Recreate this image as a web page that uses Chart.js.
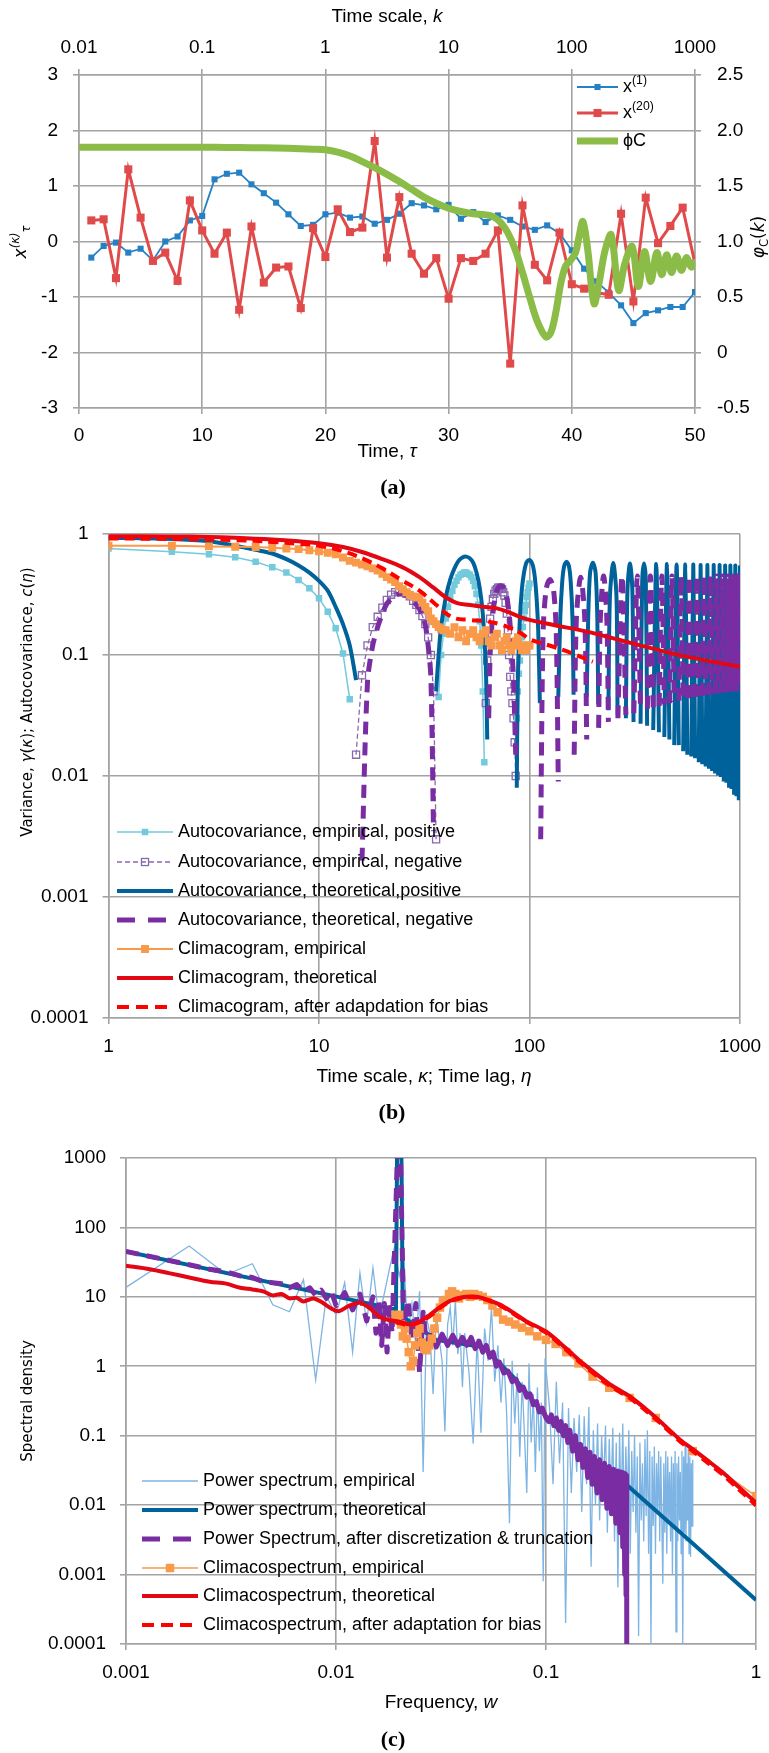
<!DOCTYPE html>
<html>
<head>
<meta charset="utf-8">
<script src="https://cdn.jsdelivr.net/npm/chart.js@4.4.1/dist/chart.umd.min.js"></script>
<style>
  html, body { margin: 0; padding: 0; background: #fff; }
  body { width: 769px; height: 1753px; position: relative; overflow: hidden; }
  canvas { position: absolute; left: 0; }
  #chart-a { top: 0; }
  #chart-b { top: 500px; }
  #chart-c { top: 1140px; }
</style>
</head>
<body>
<canvas id="chart-a" width="769" height="500"></canvas>
<canvas id="chart-b" width="769" height="640"></canvas>
<canvas id="chart-c" width="769" height="613"></canvas>
<script>
// ---------- panel (a): time series and phi_C ----------
const tau = [1,2,3,4,5,6,7,8,9,10,11,12,13,14,15,16,17,18,19,20,21,22,23,24,25,
  26,27,28,29,30,31,32,33,34,35,36,37,38,39,40,41,42,43,44,45,46,47,48,49,50];
const x1 = [-0.29,-0.08,-0.02,-0.20,-0.13,-0.34,0.00,0.09,0.38,0.46,
  1.12,1.22,1.24,1.03,0.87,0.70,0.49,0.28,0.30,0.49,
  0.52,0.43,0.45,0.32,0.39,0.50,0.69,0.65,0.58,0.66,
  0.41,0.53,0.35,0.47,0.39,0.27,0.21,0.29,0.15,-0.16,
  -0.49,-0.72,-0.92,-1.15,-1.47,-1.29,-1.24,-1.18,-1.18,-0.91];
const x20 = [0.38,0.40,-0.66,1.30,0.43,-0.35,-0.20,-0.71,0.74,0.20,
  -0.22,0.16,-1.23,0.27,-0.74,-0.47,-0.45,-1.20,0.24,-0.28,
  0.58,0.17,0.25,1.81,-0.29,0.80,-0.22,-0.58,-0.30,-1.03,
  -0.30,-0.35,-0.22,0.20,-2.20,0.65,-0.42,-0.70,0.16,-0.77,
  -0.85,-0.92,-0.96,0.50,-1.08,0.79,-0.03,0.28,0.61,-0.40];
const kScale = [0.01,0.0316,0.1,0.158,0.251,0.398,0.631,0.794,1,1.259,1.585,1.995,2.512,3.162,3.981,5.012,6.31,7.943,
  10,12.59,15.85,19.95,22.91,26.3,30.2,34.67,39.81,45.71,52.48,61.66,67.61,74.13,81.28,89.13,97.72,
  107.2,114.8,123,134.9,151.4,166,186.2,208.9,239.9,269.2,309,346.7,389,436.5,489.8,537,588.8,
  645.7,707.9,776.2,851.1,933.3,1000];
const phiC = [1.85,1.85,1.849,1.847,1.845,1.842,1.836,1.832,1.826,1.805,1.77,1.72,1.665,1.605,1.54,1.47,1.4,1.345,
  1.3,1.27,1.25,1.24,1.225,1.175,1.08,0.93,0.72,0.49,0.28,0.14,0.18,0.36,0.62,0.78,0.83,
  0.9,1.05,1.18,0.92,0.44,0.62,0.92,1.06,0.56,0.8,0.955,0.595,0.91,0.64,0.9,0.7,0.88,
  0.72,0.87,0.74,0.855,0.77,0.81];

// ---------- panel (b): climacogram and autocovariance ----------
const acEmpPosLag = [1,2,3,4,5,6,7,8,9,10,11,12,13,14, 25,
  37,38,39,40,41,42,43,44,45,46,47,48,49,50,51,52,53,54,55,56,57,58,59,60,61, 75,
  87,88,89,90,91,92,93,94,95,96,97,98,99,100];
const acEmpPosVal = [0.76,0.714,0.68,0.642,0.59,0.53,0.48,0.417,0.356,0.294,0.228,0.166,0.103,0.043, null,
  0.045,0.1,0.15,0.2,0.25,0.3,0.34,0.38,0.41,0.44,0.46,0.47,0.48,0.48,0.47,0.46,0.44,0.41,0.37,0.32,0.26,0.19,0.12,0.05,0.013, null,
  0.03,0.05,0.07,0.09,0.11,0.14,0.17,0.2,0.23,0.26,0.3,0.33,0.36,0.39];
const acEmpNegLag = [15,16,17,18,19,20,21,22,23,24,25,26,27,28,29,30,31,32,33,34,35,36, 50,
  62,63,64,65,66,67,68,69,70,71,72,73,74,75,76,77,78,79,80,81,82,83,84,85,86];
const acEmpNegVal = [0.015,0.068,0.12,0.17,0.207,0.246,0.285,0.315,0.33,0.335,0.33,0.32,0.305,0.28,0.26,0.235,0.21,0.18,0.14,0.1,0.05,0.003, null,
  0.04,0.09,0.15,0.2,0.25,0.29,0.32,0.34,0.35,0.36,0.36,0.36,0.35,0.33,0.31,0.27,0.22,0.16,0.1,0.066,0.05,0.04,0.03,0.019,0.01];
const acTheoPosLag = [1,2,3,4,5,6,7,8,9,10,11,12,13,14,15, 25,
  36,37,38,40,42,44,46,48,50,52,54,56,58,60,62,63, 75,
  87,88,90,92,94,96,98,100,102,104,106,108,110,112, 125,
  137,140,143,146,150,154,157,160,162, 175,
  187,190,194,200,206,210,212, 225,
  237,241,250,259,262, 275,
  287,292,300,308,312, 325,
  337,343,350,357,362, 375,
  387,400,412, 425, 437,450,462, 475, 487,500,512, 525, 537,550,562, 575,
  587,600,612, 625, 637,650,662, 675, 687,700,712, 725, 737,750,762, 775,
  787,800,812, 825, 837,850,862, 875, 887,900,912, 925, 937,950,962, 975, 987,1000];
const acTheoPosVal = [0.93,0.91,0.87,0.8,0.74,0.69,0.62,0.55,0.48,0.41,0.34,0.25,0.18,0.12,0.062, null,
  0.05,0.1,0.17,0.3,0.42,0.52,0.6,0.64,0.65,0.63,0.58,0.48,0.36,0.22,0.08,0.02, null,
  0.008,0.06,0.2,0.35,0.47,0.56,0.6,0.61,0.59,0.54,0.44,0.3,0.16,0.04, null,
  0.045,0.2,0.4,0.54,0.59,0.54,0.4,0.2,0.047, null,
  0.045,0.2,0.48,0.58,0.48,0.2,0.039, null,
  0.035,0.3,0.575,0.3,0.032, null,
  0.03,0.35,0.57,0.35,0.028, null,
  0.027,0.4,0.57,0.4,0.026, null,
  0.024,0.565,0.023, null, 0.021,0.565,0.02, null, 0.018,0.56,0.018, null, 0.016,0.56,0.015, null,
  0.0145,0.56,0.014, null, 0.013,0.555,0.0125, null, 0.012,0.555,0.0115, null, 0.011,0.555,0.0105, null,
  0.0101,0.555,0.0098, null, 0.009,0.55,0.0088, null, 0.008,0.55,0.0078, null, 0.007,0.55,0.0068, null, 0.0063,0.55];
const acTheoNegLag = [16,17,18,19,20,21,22,23,24,25,26,27,28,29,30,31,32,33,34,35, 50,
  64,65,66,67,68,70,72,74,76,78,80,82,84,86, 100,
  113,116,120,125,130,134,137, 150,
  163,167,175,183,187, 200,
  213,217,225,233,237, 250,
  263,275,287, 300, 313,325,337, 350, 363,375,387, 400, 413,425,437, 450,
  463,475,487, 500, 513,525,537, 550, 563,575,587, 600, 613,625,637, 650,
  663,675,687, 700, 713,725,737, 750, 763,775,787, 800, 813,825,837, 850,
  863,875,887, 900, 913,925,937, 950, 963,975,987];
const acTheoNegVal = [0.002,0.06,0.12,0.17,0.22,0.265,0.29,0.31,0.32,0.32,0.31,0.3,0.28,0.26,0.24,0.21,0.177,0.12,0.065,0.0035, null,
  0.03,0.1,0.16,0.22,0.27,0.34,0.37,0.37,0.35,0.3,0.22,0.13,0.06,0.015, null,
  0.003,0.15,0.35,0.42,0.35,0.15,0.009, null,
  0.015,0.2,0.44,0.2,0.02, null,
  0.025,0.2,0.45,0.2,0.028, null,
  0.03,0.45,0.032, null, 0.033,0.45,0.035, null, 0.036,0.45,0.037, null, 0.038,0.45,0.039, null,
  0.04,0.45,0.041, null, 0.042,0.45,0.043, null, 0.044,0.45,0.045, null, 0.045,0.45,0.046, null,
  0.046,0.45,0.047, null, 0.047,0.45,0.048, null, 0.048,0.45,0.048, null, 0.049,0.45,0.049, null,
  0.049,0.45,0.05, null, 0.05,0.45,0.05, null, 0.05,0.45,0.05];
const climEmpK = [1,2,3,4,5,6,7,8,9,10,11,12,13,14,15,16,17,18,19,20,21,22,23,24,25,26,27,28,29,30,
  31,32,33,34,35,36,37,38,39,40,42,44,46,48,50,52,54,56,58,60,62,64,66,68,70,72,74,76,78,80,
  82,84,86,88,90,92,94,96,98,100];
const climEmpVal = [0.80,0.80,0.79,0.785,0.78,0.77,0.76,0.75,0.735,0.72,0.70,0.68,0.64,0.60,0.58,
  0.56,0.54,0.52,0.50,0.47,0.44,0.42,0.40,0.37,0.35,0.33,0.315,0.305,0.30,0.30,
  0.27,0.25,0.23,0.20,0.19,0.18,0.17,0.165,0.16,0.16,
  0.15,0.17,0.14,0.16,0.13,0.15,0.16,0.14,0.13,0.15,0.16,0.13,0.12,0.14,0.15,
  0.12,0.11,0.13,0.14,0.12,0.11,0.12,0.13,0.14,0.12,0.11,0.12,0.11,0.12,0.12];
const climTheoK = [1,2,3,4,6,8,10,13,16,20,25,30,35,40,45,52,60,70,80,90,100,130,187,268,386,555,1000];
const climTheoVal = [0.96,0.955,0.945,0.93,0.9,0.87,0.84,0.78,0.71,0.62,0.53,0.44,0.36,0.30,0.27,0.259,
  0.25,0.243,0.225,0.207,0.195,0.177,0.156,0.133,0.113,0.097,0.08];
const climAdjK = [1,2,4,6,8,10,13,16,20,25,30,36,43,52,62,72,82,92,100,130,160,200];
const climAdjVal = [0.92,0.91,0.89,0.86,0.83,0.80,0.72,0.63,0.52,0.41,0.34,0.26,0.205,0.195,0.19,0.18,
  0.166,0.15,0.135,0.117,0.103,0.088];

// ---------- panel (c): spectra ----------
const psEmpW = [0.001,0.002,0.003,0.004,0.005,0.006,0.007,0.008,0.009,0.010,
  0.011,0.012,0.013,0.014,0.015,0.016,0.017,0.018,0.019,0.020,
  0.021,0.022,0.023,0.024,0.025,0.026,0.027,0.028,0.029,0.030,
  0.031,0.032,0.033,0.034,0.035,0.036,0.037,0.038,0.039,0.040,
  0.041,0.043,0.045,0.047,0.049,0.051,0.053,0.055,0.057,0.059,
  0.061,0.063,0.065,0.067,0.069,0.071,0.073,0.075,0.077,0.079,
  0.081,0.083,0.085,0.087,0.089,0.091,0.093,0.095,0.097,0.099,
  0.104,0.108,0.112,0.116,0.120,0.124,0.128,0.132,0.136,0.140,
  0.144,0.148,0.152,0.156,0.160,0.164,0.168,0.172,0.176,0.180,
  0.184,0.188,0.192,0.196,0.200,0.204,0.208,0.212,0.216,0.220,
  0.224,0.228,0.232,0.236,0.240,0.244,0.248,0.252,0.256,0.260,
  0.264,0.268,0.272,0.276,0.280,0.284,0.288,0.292,0.296,0.300,
  0.304,0.308,0.312,0.316,0.320,0.324,0.328,0.332,0.336,0.340,
  0.344,0.348,0.352,0.356,0.360,0.364,0.368,0.372,0.376,0.380,
  0.384,0.388,0.392,0.396,0.400,0.404,0.408,0.412,0.416,0.420,
  0.424,0.428,0.432,0.436,0.440,0.444,0.448,0.452,0.456,0.460,
  0.464,0.468,0.472,0.476,0.480,0.484,0.488,0.492,0.496,0.500];
const psEmpVal = [13.7,54,21,30,7.7,6.1,17.7,0.64,10.2,5.5,
  16,1.6,22,4.2,26,5,11.3,26,53,20,
  36,3,8,2,12,0.03,5,3,0.4,6,
  2.5,1.2,0.115,4,7,2,9,1.5,3,0.5,
  3,0.8,0.077,2.5,0.11,3.5,1.2,7,0.6,2,
  0.3,1.3,0.2,0.0055,1.2,0.15,0.8,0.05,0.6,0.1,
  0.015,1.1,0.08,0.4,0.03,0.5,0.06,0.3,0.0008,1.3,
  0.25,0.02,0.6,0.04,0.3,0.0002,0.25,0.015,0.18,0.03,
  0.2,0.008,0.19,0.02,0.26,0.0013,0.12,0.01,0.15,0.006,
  0.1,0.02,0.14,0.004,0.09,0.012,0.13,0.003,0.08,0.00065,
  0.11,0.008,0.15,0.005,0.07,0.01,0.12,0.002,0.06,0.008,
  0.1,0.004,0.05,0.00013,0.08,0.006,0.04,0.003,0.09,0.007,
  0.12,0.002,0.06,0.0001,0.05,0.005,0.07,0.002,0.04,0.008,
  0.06,0.003,0.05,0.006,0.00074,0.04,0.004,0.06,0.002,0.05,
  0.006,0.03,0.003,0.05,0.001,0.04,0.005,0.06,0.00015,0.04,
  0.003,0.05,0.006,0.03,0.002,0.06,0.0001,0.05,0.004,0.08,
  0.003,0.04,0.006,0.07,0.002,0.05,0.0018,0.04,0.005,0.045];
const psTheoW = [0.001,0.0193,0.0196,0.0204,0.0208,0.03,0.05,0.07,0.1,0.15,0.2,0.242,0.5,1];
const psTheoVal = [45,6.6,5000,5000,5.2,2.4,1.9,0.7,0.19,0.055,0.025,0.0197,0.0028,0.00043];
const psDiscW = [0.001,0.0015,0.002,0.0025,0.003,0.0035,0.004,0.0045,0.005,0.0055,
  0.006,0.0065,0.007,0.0075,0.008,0.0085,0.009,0.0095,0.010,0.011,
  0.012,0.013,0.014,0.015,0.0155,0.016,0.0165,0.017,0.0175,0.018,
  0.0185,0.0199,0.0201,0.021,0.022,0.023,0.024,0.025,0.026,0.027,
  0.028,0.030,0.032,0.034,0.036,0.038,0.040,0.042,0.044,0.046,
  0.048,0.050,0.052,0.054,0.056,0.058,0.060,0.063,0.066,0.069,
  0.072,0.075,0.078,0.081,0.084,0.087,0.090,0.093,0.096,0.100,
  0.103,0.106,0.109,0.112,0.115,0.118,0.121,0.124,0.127,0.130,
  0.134,0.138,0.142,0.146,0.150,0.154,0.158,0.162,0.166,0.170,
  0.175,0.180,0.185,0.190,0.195,0.200,0.205,0.210,0.215,0.220,
  0.225,0.229,0.232,0.235,0.237,0.239,0.2405,0.242,0.2425];
const psDiscVal = [45,35,29,25,23,20,19,16.5,16,15.5,
  13.5,15,12,13.5,10.5,12.5,9.5,12,7.5,11.5,
  6.5,11,4.5,10,3,9,2,8,1.6,7,
  3,5000,5000,4,9,2.5,8,0.8,6,2,
  3.0,1.9,2.9,2.0,2.8,2.0,2.6,2.0,2.6,1.8,
  2.3,1.6,2.0,1.35,1.6,1.0,1.15,0.8,0.85,0.6,
  0.65,0.45,0.5,0.36,0.4,0.28,0.31,0.22,0.25,0.18,
  0.16,0.2,0.14,0.18,0.12,0.16,0.1,0.14,0.08,0.12,
  0.06,0.1,0.045,0.075,0.035,0.065,0.025,0.058,0.02,0.05,
  0.015,0.045,0.012,0.04,0.009,0.036,0.0075,0.033,0.0055,0.031,
  0.004,0.03,0.0025,0.029,0.001,0.028,0.0005,0.027,0.00005];
const csEmpW = [1,0.5,0.3333,0.25,0.2,0.1667,0.1429,0.125,0.1111,0.1,
  0.0909,0.0833,0.0769,0.0714,0.0667,0.0625,0.0588,0.0556,0.0526,0.05,
  0.0476,0.0455,0.0435,0.0417,0.04,0.0385,0.037,0.0357,0.0345,0.0333,
  0.0323,0.03125,0.0303,0.0294,0.0286,0.0278,0.027,0.0263,0.0256,0.025,
  0.0244,0.0238,0.0233,0.0227,0.0222,0.0217,0.0213,0.0208,0.0204,0.02,0.0196,0.0192];
const csEmpVal = [0.0135,0.06,0.18,0.35,0.49,0.71,1.1,1.6,2.1,2.4,
  2.7,3.2,3.6,4.0,4.4,4.7,6,7.5,9,10,
  10.5,11,10,11,10.5,9.5,11,12,11,9,
  8.6,7,5,3.5,2.5,2,1.7,1.8,2.2,3.5,
  3,2,1.2,1.0,1.6,2.5,3.5,2.7,4,5.5,5,5.5];
const csTheoW = [0.001,0.0013,0.0016,0.002,0.0025,0.003,0.0035,0.004,0.0045,0.005,
  0.0055,0.006,0.0065,0.007,0.0078,0.0085,0.0095,0.0103,0.0115,0.013,
  0.0145,0.016,0.018,0.02,0.0225,0.025,0.028,0.031,0.035,0.04,
  0.045,0.05,0.06,0.07,0.08,0.1,0.125,0.15,0.2,0.25,
  0.3,0.35,0.436,0.5,0.6,0.7,0.8,0.9,1];
const csTheoVal = [28,25,22,19,16.5,15.5,13.5,12.8,12,10.5,
  11,9.5,9.7,8.6,9.5,8.5,6.8,6.2,7.4,8.2,
  6.8,5.2,4.6,4.4,4.0,4.4,5.5,7,8.8,9.9,
  10.1,9.6,7.8,5.9,4.5,3.17,1.8,1.1,0.56,0.37,
  0.24,0.16,0.087,0.064,0.042,0.029,0.02,0.0145,0.0108];
const csAdjW = [0.0192,0.0225,0.025,0.028,0.031,0.035,0.04,0.045,0.05,0.06,
  0.07,0.08,0.1,0.125,0.15,0.2,0.25,0.3,0.35,0.436,0.5,0.6,0.7,0.8,0.9,1];
const csAdjVal = [4.3,3.9,4.3,5.3,6.8,8.6,9.7,9.9,9.4,7.6,
  5.7,4.4,3.05,1.72,1.05,0.53,0.35,0.228,0.152,0.082,0.06,0.039,0.027,0.0185,0.0134,0.0099];

// ---------- helpers ----------
const FONT = "'Liberation Sans', Arial, sans-serif";
const VFONT = "'DejaVu Sans', Verdana, sans-serif";
const SERIF = "'Liberation Serif', 'Times New Roman', serif";
const GRID = "#a3a3a3";

Chart.defaults.font.family = FONT;
Chart.defaults.font.size = 19;
Chart.defaults.color = "#000";

const pts = (xs, ys) => xs.map((x, i) => ({ x: x, y: ys[i] }));

function fixWidth(w) {
  return function (scale) {
    scale.width = w;
    scale.paddingLeft = scale.paddingRight = scale.paddingTop = scale.paddingBottom = 0;
  };
}
function fixHeight(h) {
  return function (scale) {
    scale.height = h;
    scale.paddingLeft = scale.paddingRight = scale.paddingTop = scale.paddingBottom = 0;
  };
}
function decades(list) {
  return function (scale) {
    scale.ticks = list.map(v => ({ value: v }));
  };
}

function runFont(r, base) {
  const size = (r.sup || r.sub) ? base.size * 0.68 : base.size;
  return (r.it ? "italic " : "") + (base.weight || "normal") + " " + size + "px " + base.family;
}
function drawRuns(ctx, runs, x, y, base, align) {
  ctx.save();
  ctx.textBaseline = "middle";
  ctx.textAlign = "left";
  ctx.fillStyle = "#000";
  let total = 0;
  runs.forEach(r => { ctx.font = runFont(r, base); total += ctx.measureText(r.t).width; });
  let cx = align === "left" ? x : x - total / 2;
  runs.forEach(r => {
    ctx.font = runFont(r, base);
    let dy = 0;
    if (r.sup) dy = -base.size * 0.36;
    if (r.sub) dy = base.size * 0.3;
    ctx.fillText(r.t, cx, y + dy);
    cx += ctx.measureText(r.t).width;
  });
  ctx.restore();
}

// draws axis titles, panel label and legend for one panel
function decoPlugin(top, texts, legend) {
  return {
    id: "deco",
    afterDraw(chart) {
      const ctx = chart.ctx;
      texts.forEach(t => {
        ctx.save();
        ctx.translate(t.x, t.y - top);
        if (t.rot) ctx.rotate(-Math.PI / 2);
        drawRuns(ctx, t.runs, 0, 0, t.font, "center");
        ctx.restore();
      });
      legend.rows.forEach(row => {
        const ds = chart.data.datasets[row.ds];
        const y = row.y - top;
        ctx.save();
        ctx.strokeStyle = ds.borderColor;
        ctx.lineWidth = ds.borderWidth;
        ctx.setLineDash(row.dash || ds.borderDash || []);
        ctx.beginPath();
        ctx.moveTo(legend.x1, y);
        ctx.lineTo(legend.x2, y);
        ctx.stroke();
        ctx.setLineDash([]);
        if (ds.pointRadius) {
          const s = ds.pointRadius * Math.SQRT2;
          const mx = (legend.x1 + legend.x2) / 2;
          if (ds.pointBackgroundColor !== "rgba(0,0,0,0)") {
            ctx.fillStyle = ds.pointBackgroundColor;
            ctx.fillRect(mx - s / 2, y - s / 2, s, s);
          }
          if (ds.pointBorderWidth) {
            ctx.strokeStyle = ds.pointBorderColor;
            ctx.lineWidth = ds.pointBorderWidth;
            ctx.strokeRect(mx - s / 2, y - s / 2, s, s);
          }
        }
        ctx.restore();
        drawRuns(ctx, row.runs, legend.tx, y, legend.font, "left");
      });
    },
  };
}

const gridStyle = { color: GRID, lineWidth: 1.6, tickLength: 6 };
const borderStyle = { color: GRID, width: 1.6 };
const common = {
  responsive: false,
  animation: false,
  events: [],
  plugins: { legend: { display: false }, tooltip: { enabled: false } },
};
const titleFont = { size: 19, family: FONT };
const labelFont = { size: 22, family: SERIF, weight: "bold" };

// ---------- chart (a) ----------
const BLUE_A = "#2581c4", RED_A = "#e04a4a", GREEN = "#8bbc47";

const chartA = new Chart(document.getElementById("chart-a"), {
  type: "line",
  data: {
    datasets: [
      { label: "x(1)", data: pts(tau, x1), xAxisID: "x", yAxisID: "y",
        borderColor: BLUE_A, borderWidth: 1.8, pointStyle: "rect", pointRadius: 4.3,
        pointBackgroundColor: BLUE_A, pointBorderColor: BLUE_A, pointBorderWidth: 0, order: 3 },
      { label: "x(20)", data: pts(tau, x20), xAxisID: "x", yAxisID: "y",
        borderColor: RED_A, borderWidth: 3, pointStyle: "rect", pointRadius: 5.7,
        pointBackgroundColor: RED_A, pointBorderColor: RED_A, pointBorderWidth: 0, order: 2 },
      { label: "phiC", data: pts(kScale, phiC), xAxisID: "xTop", yAxisID: "yRight",
        borderColor: GREEN, borderWidth: 7, pointRadius: 0, tension: 0.35,
        borderCapStyle: "round", borderJoinStyle: "round", order: 1 },
    ],
  },
  options: Object.assign({}, common, {
    layout: { padding: 0, autoPadding: false },
    scales: {
      x: { type: "linear", position: "bottom", min: 0, max: 50,
        ticks: { stepSize: 10, padding: 10.5, maxRotation: 0, autoSkip: false },
        grid: gridStyle, border: borderStyle, afterFit: fixHeight(92) },
      xTop: { type: "logarithmic", position: "top", min: 0.01, max: 1000,
        afterBuildTicks: decades([0.01, 0.1, 1, 10, 100, 1000]),
        ticks: { callback: v => String(v), padding: 10, maxRotation: 0, autoSkip: false },
        grid: Object.assign({}, gridStyle, { drawOnChartArea: false }), border: borderStyle,
        afterFit: fixHeight(75) },
      y: { type: "linear", position: "left", min: -3, max: 3,
        ticks: { stepSize: 1, padding: 15 },
        grid: gridStyle, border: borderStyle, afterFit: fixWidth(79) },
      yRight: { type: "linear", position: "right", min: -0.5, max: 2.5,
        ticks: { stepSize: 0.5, padding: 16 },
        grid: Object.assign({}, gridStyle, { drawOnChartArea: false }), border: borderStyle,
        afterFit: fixWidth(74) },
    },
  }),
  plugins: [decoPlugin(0, [
    { x: 387, y: 17, runs: [{ t: "Time scale, " }, { t: "k", it: true }], font: titleFont },
    { x: 387, y: 452, runs: [{ t: "Time, " }, { t: "τ", it: true }], font: titleFont },
    { x: 393, y: 488, runs: [{ t: "(a)" }], font: labelFont },
    { x: 22, y: 242, rot: true, font: { size: 17, family: VFONT },
      runs: [{ t: "x", it: true }, { t: "(κ)", sup: true, it: true }, { t: "τ", sub: true, it: true }] },
    { x: 760, y: 237, rot: true, font: { size: 17, family: VFONT },
      runs: [{ t: "φ", it: true }, { t: "C", sub: true }, { t: "(" }, { t: "k", it: true }, { t: ")" }] },
  ], {
    x1: 577, x2: 618, tx: 623, font: { size: 18, family: FONT },
    rows: [
      { ds: 0, y: 87, runs: [{ t: "x" }, { t: "(1)", sup: true }] },
      { ds: 1, y: 113, runs: [{ t: "x" }, { t: "(20)", sup: true }] },
      { ds: 2, y: 141, runs: [{ t: "ϕC" }] },
    ],
  })],
});

// ---------- chart (b) ----------
const CYAN = "#72cadc", PURPLE_L = "#8a68b0", DBLUE = "#00629b", PURPLE = "#7a2da3",
  ORANGE = "#f9994a", RED = "#e30613", RED2 = "#ff0000";

const chartB = new Chart(document.getElementById("chart-b"), {
  type: "line",
  data: {
    datasets: [
      { data: pts(acEmpPosLag, acEmpPosVal), borderColor: CYAN, borderWidth: 1.5,
        pointStyle: "rect", pointRadius: 4.6, pointBackgroundColor: CYAN, pointBorderWidth: 0,
        spanGaps: false, order: 7 },
      { data: pts(acEmpNegLag, acEmpNegVal), borderColor: PURPLE_L, borderWidth: 1.3, borderDash: [5, 3],
        pointStyle: "rect", pointRadius: 5, pointBackgroundColor: "rgba(0,0,0,0)",
        pointBorderColor: PURPLE_L, pointBorderWidth: 1.3, spanGaps: false, order: 6 },
      { data: pts(acTheoPosLag, acTheoPosVal), borderColor: DBLUE, borderWidth: 4, pointRadius: 0,
        tension: 0.3, borderJoinStyle: "round", spanGaps: false, order: 5 },
      { data: pts(acTheoNegLag, acTheoNegVal), borderColor: PURPLE, borderWidth: 5, borderDash: [13, 8],
        pointRadius: 0, tension: 0.3, spanGaps: false, order: 4 },
      { data: pts(climEmpK, climEmpVal), borderColor: ORANGE, borderWidth: 2,
        pointStyle: "rect", pointRadius: 5.6, pointBackgroundColor: ORANGE, pointBorderWidth: 0, order: 3 },
      { data: pts(climTheoK, climTheoVal), borderColor: RED, borderWidth: 4, pointRadius: 0,
        tension: 0.4, order: 2 },
      { data: pts(climAdjK, climAdjVal), borderColor: RED2, borderWidth: 4, borderDash: [10, 6],
        pointRadius: 0, tension: 0.4, order: 1 },
    ],
  },
  options: Object.assign({}, common, {
    layout: { padding: { top: 34, right: 29, left: 0, bottom: 0 }, autoPadding: false },
    scales: {
      x: { type: "logarithmic", min: 1, max: 1000, afterBuildTicks: decades([1, 10, 100, 1000]),
        ticks: { callback: v => String(v), padding: 11.3, maxRotation: 0, autoSkip: false },
        grid: gridStyle, border: borderStyle, afterFit: fixHeight(122) },
      y: { type: "logarithmic", min: 0.0001, max: 1,
        afterBuildTicks: decades([0.0001, 0.001, 0.01, 0.1, 1]),
        ticks: { callback: v => String(v), padding: 14, autoSkip: false },
        grid: gridStyle, border: borderStyle, afterFit: fixWidth(108.5) },
    },
  }),
  plugins: [decoPlugin(500, [
    { x: 424, y: 1077, font: titleFont,
      runs: [{ t: "Time scale, " }, { t: "κ", it: true }, { t: "; Time lag, " }, { t: "η", it: true }] },
    { x: 392, y: 1113, runs: [{ t: "(b)" }], font: labelFont },
    { x: 28, y: 702, rot: true, font: { size: 15, family: VFONT },
      runs: [{ t: "Variance, " }, { t: "γ", it: true }, { t: "(" }, { t: "κ", it: true },
        { t: "); Autocovariance, " }, { t: "c", it: true }, { t: "(" }, { t: "η", it: true }, { t: ")" }] },
  ], {
    x1: 117, x2: 173, tx: 178, font: { size: 18, family: FONT },
    rows: [
      { ds: 0, y: 832, runs: [{ t: "Autocovariance, empirical, positive" }] },
      { ds: 1, y: 862, runs: [{ t: "Autocovariance, empirical, negative" }] },
      { ds: 2, y: 891, runs: [{ t: "Autocovariance, theoretical,positive" }] },
      { ds: 3, y: 920, dash: [18, 13], runs: [{ t: "Autocovariance, theoretical, negative" }] },
      { ds: 4, y: 949, runs: [{ t: "Climacogram, empirical" }] },
      { ds: 5, y: 978, runs: [{ t: "Climacogram, theoretical" }] },
      { ds: 6, y: 1007, dash: [12, 7], runs: [{ t: "Climacogram, after adapdation for bias" }] },
    ],
  })],
});

// ---------- chart (c) ----------
const LBLUE = "#7db4e3";

const chartC = new Chart(document.getElementById("chart-c"), {
  type: "line",
  data: {
    datasets: [
      { data: pts(psEmpW, psEmpVal), borderColor: LBLUE, borderWidth: 1.3, pointRadius: 0, order: 6 },
      { data: pts(psTheoW, psTheoVal), borderColor: DBLUE, borderWidth: 4, pointRadius: 0, order: 5 },
      { data: pts(psDiscW, psDiscVal), borderColor: PURPLE, borderWidth: 5, borderDash: [13, 8],
        borderJoinStyle: "round", pointRadius: 0, order: 4,
        // the dense oscillating part reads as a solid ribbon
        segment: { borderDash: ctx => (ctx.p0.parsed.x >= 0.0275 ? [] : undefined) } },
      { data: pts(csEmpW, csEmpVal), borderColor: ORANGE, borderWidth: 1.5,
        pointStyle: "rect", pointRadius: 6, pointBackgroundColor: ORANGE, pointBorderWidth: 0, order: 3 },
      { data: pts(csTheoW, csTheoVal), borderColor: RED, borderWidth: 4, pointRadius: 0,
        tension: 0.3, order: 2 },
      { data: pts(csAdjW, csAdjVal), borderColor: RED2, borderWidth: 4, borderDash: [10, 6],
        pointRadius: 0, tension: 0.3, order: 1 },
    ],
  },
  options: Object.assign({}, common, {
    layout: { padding: { top: 18, right: 13, left: 0, bottom: 0 }, autoPadding: false },
    scales: {
      x: { type: "logarithmic", min: 0.001, max: 1, afterBuildTicks: decades([0.001, 0.01, 0.1, 1]),
        ticks: { callback: v => String(v), padding: 11.6, maxRotation: 0, autoSkip: false },
        grid: gridStyle, border: borderStyle, afterFit: fixHeight(109) },
      y: { type: "logarithmic", min: 0.0001, max: 1000,
        afterBuildTicks: decades([0.0001, 0.001, 0.01, 0.1, 1, 10, 100, 1000]),
        ticks: { callback: v => String(v), padding: 14, autoSkip: false },
        grid: gridStyle, border: borderStyle, afterFit: fixWidth(126) },
    },
  }),
  plugins: [decoPlugin(1140, [
    { x: 441, y: 1703, font: titleFont, runs: [{ t: "Frequency, " }, { t: "w", it: true }] },
    { x: 393, y: 1740, runs: [{ t: "(c)" }], font: labelFont },
    { x: 28, y: 1401, rot: true, font: { size: 15, family: VFONT }, runs: [{ t: "Spectral density" }] },
  ], {
    x1: 142, x2: 198, tx: 203, font: { size: 18, family: FONT },
    rows: [
      { ds: 0, y: 1481, runs: [{ t: "Power spectrum, empirical" }] },
      { ds: 1, y: 1510, runs: [{ t: "Power spectrum, theoretical" }] },
      { ds: 2, y: 1539, dash: [18, 13], runs: [{ t: "Power Spectrum, after discretization & truncation" }] },
      { ds: 3, y: 1568, runs: [{ t: "Climacospectrum, empirical" }] },
      { ds: 4, y: 1596, runs: [{ t: "Climacospectrum, theoretical" }] },
      { ds: 5, y: 1625, dash: [12, 7], runs: [{ t: "Climacospectrum, after adaptation for bias" }] },
    ],
  })],
});
</script>
</body>
</html>
